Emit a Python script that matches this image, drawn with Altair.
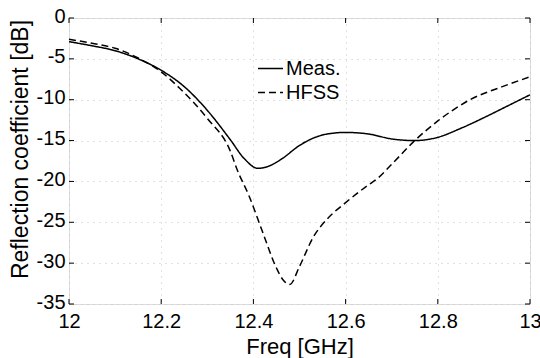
import altair as alt
import pandas as pd

# Measured curve
meas_freq = [12.00, 12.05, 12.10, 12.15, 12.20, 12.25, 12.30, 12.35, 12.38, 12.41,
             12.43, 12.46, 12.50, 12.53, 12.56, 12.60, 12.65, 12.70, 12.75, 12.80,
             12.85, 12.90, 12.95, 13.00]
meas_db = [-2.9, -3.4, -4.0, -5.0, -6.4, -8.4, -11.3, -14.9, -17.2, -18.4,
           -18.2, -17.3, -15.6, -14.7, -14.2, -14.0, -14.2, -14.8, -15.0, -14.6,
           -13.5, -12.2, -10.8, -9.4]

# HFSS simulated curve
hfss_freq = [12.00, 12.05, 12.10, 12.15, 12.20, 12.24, 12.30, 12.35, 12.365, 12.39,
             12.42, 12.45, 12.465, 12.479, 12.50, 12.53, 12.56, 12.60, 12.65, 12.67,
             12.70, 12.75, 12.80, 12.87, 12.94, 13.00]
hfss_db = [-2.6, -3.1, -3.7, -4.9, -6.6, -8.6, -12.3, -16.3, -18.6, -21.7,
           -26.2, -30.6, -32.1, -32.6, -30.4, -26.8, -24.6, -22.6, -20.4, -19.6,
           -17.9, -15.0, -12.6, -10.0, -8.4, -7.2]

series_names = ["Meas.", "HFSS"]
x_ticks = [12, 12.2, 12.4, 12.6, 12.8, 13]
y_ticks = [-35, -30, -25, -20, -15, -10, -5, 0]

W, H = 461, 286
FONT = "Liberation Sans"

df = pd.concat([
    pd.DataFrame({"freq": meas_freq, "db": meas_db, "series": series_names[0]}),
    pd.DataFrame({"freq": hfss_freq, "db": hfss_db, "series": series_names[1]}),
])
xt = pd.DataFrame({"t": x_ticks})
yt = pd.DataFrame({"t": y_ticks})

xscale = alt.Scale(domain=[12, 13], nice=False, zero=False)
yscale = alt.Scale(domain=[-35, 0], nice=False, zero=False)

lines = alt.Chart(df).mark_line(color="black", strokeWidth=1.5, interpolate="monotone").encode(
    x=alt.X("freq:Q", scale=xscale,
            axis=alt.Axis(values=x_ticks, labelExpr="datum.value + ''", ticks=False, domain=False,
                          grid=True, gridDash=[1, 5], gridColor="#c4c4c4", gridWidth=1,
                          labelFontSize=20, labelFont=FONT, labelColor="black", labelPadding=7,
                          labelFlush=False, labelOverlap=False,
                          title="Freq [GHz]", titleFontSize=22, titleFont=FONT,
                          titleFontWeight="normal", titleColor="black",
                          titleY=49, titleBaseline="alphabetic")),
    y=alt.Y("db:Q", scale=yscale,
            axis=alt.Axis(values=y_ticks, labelExpr="datum.value + ''", ticks=False, domain=False,
                          grid=True, gridDash=[1, 5], gridColor="#c4c4c4", gridWidth=1,
                          labelFontSize=20, labelFont=FONT, labelColor="black", labelPadding=4,
                          labelOffset=-2, labelOverlap=False, labelFlush=False,
                          title="Reflection coefficient [dB]", titleFontSize=23, titleFont=FONT,
                          titleFontWeight="normal", titleColor="black",
                          titleX=-42, titleY=131, titleBaseline="alphabetic", titleAlign="center")),
    strokeDash=alt.StrokeDash("series:N",
                              scale=alt.Scale(domain=series_names, range=[[1, 0], [7, 4]]),
                              legend=alt.Legend(title=None, orient="none", legendX=188, legendY=37,
                                                labelFontSize=20, labelFont=FONT, labelColor="black",
                                                symbolSize=625, symbolStrokeWidth=1.5,
                                                symbolStrokeColor="black", symbolType="stroke",
                                                rowPadding=0, padding=0, labelOffset=2)),
)

tick_style = dict(color="black", strokeWidth=1)
bottom_ticks = alt.Chart(xt).mark_rule(**tick_style).encode(
    x=alt.X("t:Q", scale=xscale), y=alt.value(H), y2=alt.value(H - 5))
top_ticks = alt.Chart(xt).mark_rule(**tick_style).encode(
    x=alt.X("t:Q", scale=xscale), y=alt.value(0), y2=alt.value(5))
left_ticks = alt.Chart(yt).mark_rule(**tick_style).encode(
    y=alt.Y("t:Q", scale=yscale), x=alt.value(0), x2=alt.value(5))
right_ticks = alt.Chart(yt).mark_rule(**tick_style).encode(
    y=alt.Y("t:Q", scale=yscale), x=alt.value(W), x2=alt.value(W - 5))

chart = alt.layer(lines, bottom_ticks, top_ticks, left_ticks, right_ticks).properties(
    width=W, height=H,
    padding={"left": 69, "top": 18, "right": 10, "bottom": 54},
    autosize=alt.AutoSizeParams(type="none"),
).configure_view(stroke="black", strokeWidth=1.5).configure(background="white")

chart.save("out.html", embed_options={"renderer": "svg", "actions": False})
